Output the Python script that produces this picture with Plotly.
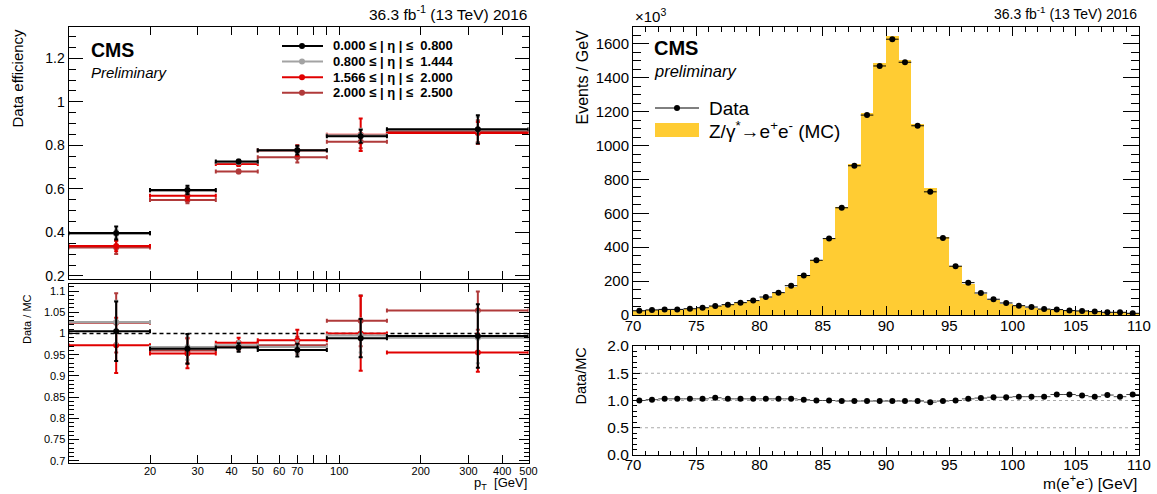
import math
import plotly.graph_objects as go

W, H = 1157, 494
FONT = "Liberation Sans, Arial, Helvetica, sans-serif"

# ---------------- electron efficiency vs pT, in |eta| bins ----------------
pt_edges = [10, 20, 35, 50, 90, 150, 500]
eta_bins = [
    "0.000 ≤ | η | ≤  0.800",
    "0.800 ≤ | η | ≤  1.444",
    "1.566 ≤ | η | ≤  2.000",
    "2.000 ≤ | η | ≤  2.500",
]
eta_colors = ["#000000", "#a3a3a3", "#e10000", "#b03a3a"]

eff_data = [
    [0.397, 0.595, 0.726, 0.778, 0.842, 0.874],
    [0.393, 0.590, 0.722, 0.776, 0.846, 0.872],
    [0.338, 0.568, 0.715, 0.776, 0.849, 0.857],
    [0.331, 0.549, 0.680, 0.746, 0.817, 0.866],
]
eff_err = [
    [0.030, 0.020, 0.008, 0.020, 0.030, 0.065],
    [0.020, 0.015, 0.006, 0.015, 0.030, 0.060],
    [0.025, 0.020, 0.010, 0.025, 0.075, 0.050],
    [0.030, 0.015, 0.008, 0.025, 0.030, 0.050],
]
sf_values = [
    [1.005, 0.964, 0.967, 0.961, 0.989, 0.994],
    [1.027, 0.968, 0.972, 0.968, 0.995, 0.990],
    [0.972, 0.953, 0.978, 0.984, 1.000, 0.955],
    [1.025, 0.960, 0.970, 0.972, 1.030, 1.054],
]
sf_err = [
    [0.070, 0.035, 0.010, 0.015, 0.045, 0.075],
    [0.050, 0.030, 0.010, 0.015, 0.040, 0.060],
    [0.065, 0.035, 0.012, 0.025, 0.088, 0.045],
    [0.070, 0.030, 0.010, 0.020, 0.060, 0.045],
]
pt_ticks = [20, 30, 40, 50, 60, 70, 80, 90, 100, 200, 300, 400, 500]
pt_ticktext = ["20", "30", "40", "50", "60", "70", "", "", "100", "200", "300", "400", "500"]

# ---------------- Z -> ee invariant mass ----------------
mass_edges = list(range(70, 111))
data_events = [  # x10^3 events / GeV
    25, 30, 33, 33, 37, 43, 53, 61, 73, 85,
    106, 132, 173, 233, 323, 451, 633, 881, 1180, 1470,
    1628, 1492, 1117, 727, 455, 288, 191, 130, 93, 71,
    55, 47, 35, 32, 26, 24, 20, 16, 16, 10,
]
data_mc_ratio = [
    1.00, 1.015, 1.03, 1.03, 1.03, 1.03, 1.05, 1.03, 1.03, 1.03,
    1.03, 1.03, 1.03, 1.015, 1.00, 1.00, 0.99, 0.99, 0.99, 0.99,
    0.99, 0.99, 0.99, 0.97, 0.99, 1.00, 1.03, 1.045, 1.06, 1.06,
    1.07, 1.07, 1.07, 1.11, 1.11, 1.09, 1.07, 1.10, 1.07, 1.11,
]

pt_lo = pt_edges[:-1]
pt_hi = pt_edges[1:]
pt_centers = [(a + b) / 2 for a, b in zip(pt_lo, pt_hi)]
pt_minus = [c - a for c, a in zip(pt_centers, pt_lo)]
pt_plus = [b - c for c, b in zip(pt_centers, pt_hi)]

m_centers = [(a + b) / 2 for a, b in zip(mass_edges[:-1], mass_edges[1:])]
m_half = [(b - a) / 2 for a, b in zip(mass_edges[:-1], mass_edges[1:])]
mc_events = [d / r for d, r in zip(data_events, data_mc_ratio)]

GOLD = "#ffcc33"

fig = go.Figure()

# efficiency and scale-factor points, drawn so the central bin ends up on top
for i in reversed(range(len(eta_bins))):
    col = eta_colors[i]
    fig.add_trace(go.Scatter(
        x=pt_centers, y=eff_data[i], mode="markers", xaxis="x", yaxis="y",
        marker=dict(color=col, size=6),
        error_x=dict(type="data", symmetric=False, array=pt_plus, arrayminus=pt_minus,
                     color=col, thickness=2, width=2),
        error_y=dict(type="data", array=eff_err[i], color=col, thickness=2, width=2),
        showlegend=False, name=eta_bins[i]))
    fig.add_trace(go.Scatter(
        x=pt_centers, y=sf_values[i], mode="markers", xaxis="x2", yaxis="y2",
        marker=dict(color=col, size=6),
        error_x=dict(type="data", symmetric=False, array=pt_plus, arrayminus=pt_minus,
                     color=col, thickness=2, width=2),
        error_y=dict(type="data", array=sf_err[i], color=col, thickness=2, width=2),
        showlegend=False, name=eta_bins[i]))

# MC histogram and data points
fig.add_trace(go.Bar(
    x=m_centers, y=mc_events, width=1, xaxis="x3", yaxis="y3",
    marker=dict(color=GOLD, line=dict(width=0)), showlegend=False, name="MC"))
fig.add_trace(go.Scatter(
    x=m_centers, y=data_events, mode="markers", xaxis="x3", yaxis="y3",
    marker=dict(color="black", size=6),
    error_x=dict(type="data", array=m_half, color="black", thickness=1, width=0),
    showlegend=False, name="Data"))
fig.add_trace(go.Scatter(
    x=m_centers, y=data_mc_ratio, mode="markers", xaxis="x4", yaxis="y4",
    marker=dict(color="black", size=6),
    error_x=dict(type="data", array=m_half, color="#444444", thickness=1, width=0),
    showlegend=False, name="Data/MC"))

# ---------------- layout / frames ----------------
def xdom(a, b):
    return [a / W, b / W]


def ydom(top, bottom):
    return [1 - bottom / H, 1 - top / H]


LX0, LX1 = 68.5, 528.5
RX0, RX1 = 633, 1139

frame = dict(showline=True, linecolor="black", linewidth=1, mirror="allticks",
             ticks="inside", tickcolor="black", showgrid=False, zeroline=False)

tick_font_l = dict(family=FONT, size=14, color="black")
tick_font_ls = dict(family=FONT, size=11, color="black")
tick_font_r = dict(family=FONT, size=15, color="black")

fig.update_layout(
    width=W, height=H, margin=dict(l=0, r=0, t=0, b=0, autoexpand=False),
    paper_bgcolor="white", plot_bgcolor="white",
    barmode="overlay", bargap=0, showlegend=False,
    font=dict(family=FONT, color="black"),
    xaxis=dict(frame, domain=xdom(LX0, LX1), type="log",
               range=[1, math.log10(500)], tickvals=pt_ticks, ticktext=pt_ticktext,
               showticklabels=False, ticklen=8, anchor="y"),
    yaxis=dict(frame, domain=ydom(27, 279), range=[0.186, 1.344],
               tickvals=[0.2, 0.4, 0.6, 0.8, 1.0, 1.2],
               ticktext=["0.2", "0.4", "0.6", "0.8", "1", "1.2"],
               ticklen=14, tickfont=tick_font_l, anchor="x",
               minor=dict(dtick=0.05, ticks="inside", ticklen=7, tickcolor="black")),
    xaxis2=dict(frame, domain=xdom(LX0, LX1), type="log",
                range=[1, math.log10(500)], tickvals=pt_ticks, ticktext=pt_ticktext,
                ticklen=8, tickfont=tick_font_ls, anchor="y2", ticklabelstandoff=-2),
    yaxis2=dict(frame, domain=ydom(284, 463), range=[0.695, 1.1165],
                tickvals=[0.7, 0.75, 0.8, 0.85, 0.9, 0.95, 1.0, 1.05, 1.1],
                ticktext=["0.7", "0.75", "0.8", "0.85", "0.9", "0.95", "1", "1.05", "1.1"],
                ticklen=10, tickfont=tick_font_ls, anchor="x2",
                minor=dict(dtick=0.01, ticks="inside", ticklen=5, tickcolor="black")),
    xaxis3=dict(frame, domain=xdom(RX0, RX1), range=[70, 110], dtick=5, tick0=70,
                ticklen=9, tickfont=tick_font_r, anchor="y3", ticklabelstandoff=-3,
                minor=dict(dtick=1, ticks="inside", ticklen=5, tickcolor="black")),
    yaxis3=dict(frame, domain=ydom(27, 315), range=[0, 1700], dtick=200,
                ticklen=16, tickfont=tick_font_r, anchor="x3",
                minor=dict(dtick=50, ticks="inside", ticklen=8, tickcolor="black")),
    xaxis4=dict(frame, domain=xdom(RX0, RX1), range=[70, 110], dtick=5, tick0=70,
                ticklen=8, tickfont=tick_font_r, anchor="y4", ticklabelstandoff=-4,
                minor=dict(dtick=1, ticks="inside", ticklen=4, tickcolor="black")),
    yaxis4=dict(frame, domain=ydom(346, 455), range=[0, 2],
                tickvals=[0, 0.5, 1.0, 1.5, 2.0],
                ticktext=["0.0", "0.5", "1.0", "1.5", "2.0"],
                ticklen=7, tickfont=dict(family=FONT, size=15.5, color="black"),
                anchor="x4",
                minor=dict(dtick=0.1, ticks="inside", ticklen=4, tickcolor="black")),
)

shapes = []
# unity reference in the scale-factor panel
shapes.append(dict(type="line", xref="x2 domain", x0=0, x1=1, yref="y2", y0=1, y1=1,
                   line=dict(color="black", width=1.5, dash="4px,3px"), layer="below"))
# dotted guide lines in the Data/MC panel
for g in [0.5, 1.0, 1.5]:
    shapes.append(dict(type="line", xref="x4 domain", x0=0, x1=1, yref="y4", y0=g, y1=g,
                       line=dict(color="#aaaaaa", width=1, dash="dot"), layer="below"))

annotations = []


def text(x, y, s, size, xanchor="left", yanchor="middle", angle=0, **kw):
    annotations.append(dict(xref="paper", yref="paper", x=x / W, y=1 - y / H, text=s,
                            showarrow=False, xanchor=xanchor, yanchor=yanchor,
                            textangle=angle,
                            font=dict(family=FONT, size=size, color="black"), **kw))


# legend for |eta| bins
leg_y0, leg_dy = 46, 15.6
for i, (lab, col) in enumerate(zip(eta_bins, eta_colors)):
    yy = leg_y0 + i * leg_dy
    shapes.append(dict(type="line", xref="paper", yref="paper", x0=282 / W, x1=323 / W,
                       y0=1 - yy / H, y1=1 - yy / H, line=dict(color=col, width=2)))
    shapes.append(dict(type="circle", xref="paper", yref="paper",
                       x0=(302 - 3) / W, x1=(302 + 3) / W,
                       y0=1 - (yy + 3) / H, y1=1 - (yy - 3) / H,
                       fillcolor=col, line=dict(width=0)))
    text(331, yy, "<b>" + lab + "</b>", 13)

# legend for the mass plot
shapes.append(dict(type="line", xref="paper", yref="paper", x0=655 / W, x1=699 / W,
                   y0=1 - 108 / H, y1=1 - 108 / H, line=dict(color="black", width=1)))
shapes.append(dict(type="circle", xref="paper", yref="paper",
                   x0=(677 - 3) / W, x1=(677 + 3) / W, y0=1 - 111 / H, y1=1 - 105 / H,
                   fillcolor="black", line=dict(width=0)))
text(707, 108, "Data", 19)
shapes.append(dict(type="rect", xref="paper", yref="paper", x0=655 / W, x1=699 / W,
                   y0=1 - 137 / H, y1=1 - 123 / H, fillcolor=GOLD, line=dict(width=0)))
text(707, 130, "Z/γ<sup>*</sup>→e<sup>+</sup>e<sup>-</sup> (MC)", 19)

# headers and labels
text(LX1, 13, "36.3 fb<sup>-1</sup> (13 TeV) 2016", 15.5, xanchor="right")
text(RX1, 13, "36.3 fb<sup>-1</sup> (13 TeV) 2016", 14, xanchor="right")
text(89, 50, "<b>CMS</b>", 19.5)
text(89, 72, "<i>Preliminary</i>", 15)
text(652, 48, "<b>CMS</b>", 20)
text(652, 71, "<i>preliminary</i>", 16.5)
text(RX0, 16, "×10<sup>3</sup>", 15)

text(17, 27, "Data efficiency", 15, xanchor="center", yanchor="top", angle=-90)
text(27, 292, "Data / MC", 11, xanchor="center", yanchor="top", angle=-90)
text(582, 28, "Events / GeV", 16, xanchor="center", yanchor="top", angle=-90)
text(580, 346, "Data/MC", 14.5, xanchor="center", yanchor="top", angle=-90)

text(LX1, 483, "p<sub>T</sub>  [GeV]", 13, xanchor="right")
text(RX1, 482, "m(e<sup>+</sup>e<sup>-</sup>) [GeV]", 15.5, xanchor="right")

fig.update_layout(shapes=shapes, annotations=annotations)

fig.write_html("out.html")
